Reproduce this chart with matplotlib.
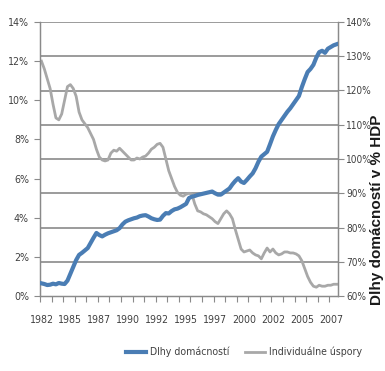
import numpy as np
import matplotlib
matplotlib.use("Agg")
import matplotlib.pyplot as plt
from matplotlib.ticker import FixedLocator

# Quarterly observations; tick labels every 10 quarters
year_labels = ["1982", "1985", "1987", "1990", "1992", "1995",
               "1997", "2000", "2002", "2005", "2007"]

# Household debt, % of GDP (right axis)
debt = [63.7, 63.5, 63.2, 63.3, 63.6, 63.4, 63.8, 63.6, 63.5, 64.5,
        66.5, 68.5, 70.5, 72.0, 72.6, 73.3, 74.0, 75.5, 77.0, 78.4,
        77.8, 77.4, 77.9, 78.3, 78.6, 78.9, 79.2, 79.8, 80.9, 81.7,
        82.1, 82.4, 82.7, 82.9, 83.3, 83.5, 83.6, 83.2, 82.7, 82.4,
        82.2, 82.3, 83.4, 84.2, 84.1, 84.8, 85.3, 85.5, 85.9, 86.4,
        86.9, 88.6, 89.0, 89.2, 89.5, 89.7, 89.9, 90.1, 90.3, 90.5,
        90.0, 89.6, 89.6, 90.2, 90.8, 91.4, 92.6, 93.6, 94.4, 93.4,
        93.0, 93.9, 94.9, 95.8, 97.3, 99.2, 100.7, 101.4, 102.1, 104.3,
        106.6, 108.5, 110.2, 111.4, 112.6, 113.8, 114.8, 116.0, 117.2, 118.4,
        121.0, 123.3, 125.4, 126.3, 127.5, 129.6, 131.2, 131.6, 131.0, 132.2,
        132.7, 133.2, 133.5]

# Personal saving rate, % (left axis)
savings = [12.0, 11.6, 11.1, 10.6, 9.8, 9.1, 9.0, 9.3, 10.0, 10.7,
           10.8, 10.6, 10.2, 9.4, 9.0, 8.8, 8.6, 8.3, 8.0, 7.5,
           7.1, 6.95, 6.9, 6.95, 7.3, 7.45, 7.4, 7.55, 7.4, 7.25,
           7.1, 6.95, 6.95, 7.05, 7.0, 7.1, 7.15, 7.3, 7.5, 7.6,
           7.75, 7.8, 7.6, 7.0, 6.4, 6.0, 5.6, 5.3, 5.15, 5.1,
           5.2, 5.25, 5.2, 4.7, 4.35, 4.3, 4.2, 4.15, 4.05, 3.95,
           3.8, 3.7, 3.95, 4.2, 4.35, 4.2, 3.95, 3.4, 2.9, 2.4,
           2.25, 2.3, 2.35, 2.2, 2.1, 2.05, 1.9, 2.2, 2.45, 2.25,
           2.4, 2.2, 2.1, 2.15, 2.25, 2.25, 2.2, 2.2, 2.15, 2.05,
           1.8, 1.4, 1.0, 0.7, 0.5, 0.45, 0.55, 0.5, 0.5, 0.55,
           0.55, 0.6, 0.6]

n = len(debt)
x = np.arange(n)

plt.rcParams["font.family"] = ["DejaVu Sans"]
plt.rcParams["font.stretch"] = "condensed"

W, H = 385, 371
fig = plt.figure(figsize=(W / 100, H / 100), dpi=100)
ax = fig.add_axes([40 / W, (H - 296) / H, (338 - 40) / W, (296 - 22) / H])
ax2 = ax.twinx()

left_lim = (0, 14)
right_lim = (60, 140)
right_ticks = np.arange(60, 141, 10)

ax.set_xlim(-0.5, n - 0.5)
ax.set_ylim(*left_lim)
ax2.set_ylim(*right_lim)

# horizontal grid follows the right-hand scale, drawn beneath both series
grid_pos = (right_ticks[1:] - right_lim[0]) / (right_lim[1] - right_lim[0]) * (left_lim[1] - left_lim[0])
for g in grid_pos:
    ax.axhline(g, color="#8a8a8a", lw=1.2, zorder=0)

ax.plot(x, savings, color="#a8a8a8", lw=2.0, zorder=2, label="Individuálne úspory")
ax2.plot(x, debt, color="#4a7db4", lw=3.0, zorder=3, label="Dlhy domácností")

tick_color = "#404040"
spine_color = "#8a8a8a"
FS = 7.6

ax.set_yticks(np.arange(0, 15, 2))
ax.set_yticklabels([f"{v}%" for v in range(0, 15, 2)])
ax2.set_yticks(right_ticks)
ax2.set_yticklabels([f"{v}%" for v in right_ticks])

label_idx = np.arange(0, n, 10)[:len(year_labels)]
ax.set_xticks(label_idx)
ax.set_xticklabels(year_labels)
ax.xaxis.set_minor_locator(FixedLocator(np.arange(-0.5, n, 4)))
ax.tick_params(axis="x", which="major", length=0, pad=14, labelsize=FS, colors=tick_color)
ax.tick_params(axis="x", which="minor", length=4, width=0.8, color=spine_color, direction="out")
ax.tick_params(axis="y", length=4, width=0.8, color=spine_color, labelsize=FS,
               labelcolor=tick_color, pad=4)
ax2.tick_params(axis="y", length=4, width=0.8, color=spine_color, labelsize=7.2,
                labelcolor=tick_color, pad=2)

for a in (ax, ax2):
    a.spines["top"].set_visible(False)
    for s in ("left", "right", "bottom"):
        a.spines[s].set_color(spine_color)
        a.spines[s].set_linewidth(0.9)

fig.text(377 / W, 161 / H, "Dlhy domácností v % HDP", rotation=90,
         ha="center", va="center", fontsize=11, fontweight="bold",
         color="#1a1a1a", family=["Liberation Sans", "DejaVu Sans"], fontstretch="normal")

h2, l2 = ax2.get_legend_handles_labels()
h1, l1 = ax.get_legend_handles_labels()
fig.legend(h2 + h1, l2 + l1, loc="center", bbox_to_anchor=(244 / W, 19 / H),
           ncol=2, frameon=False, fontsize=FS, handlelength=1.9,
           columnspacing=1.4, handletextpad=0.4, labelcolor=tick_color)

fig.savefig("out.png", dpi=100, facecolor="white")
